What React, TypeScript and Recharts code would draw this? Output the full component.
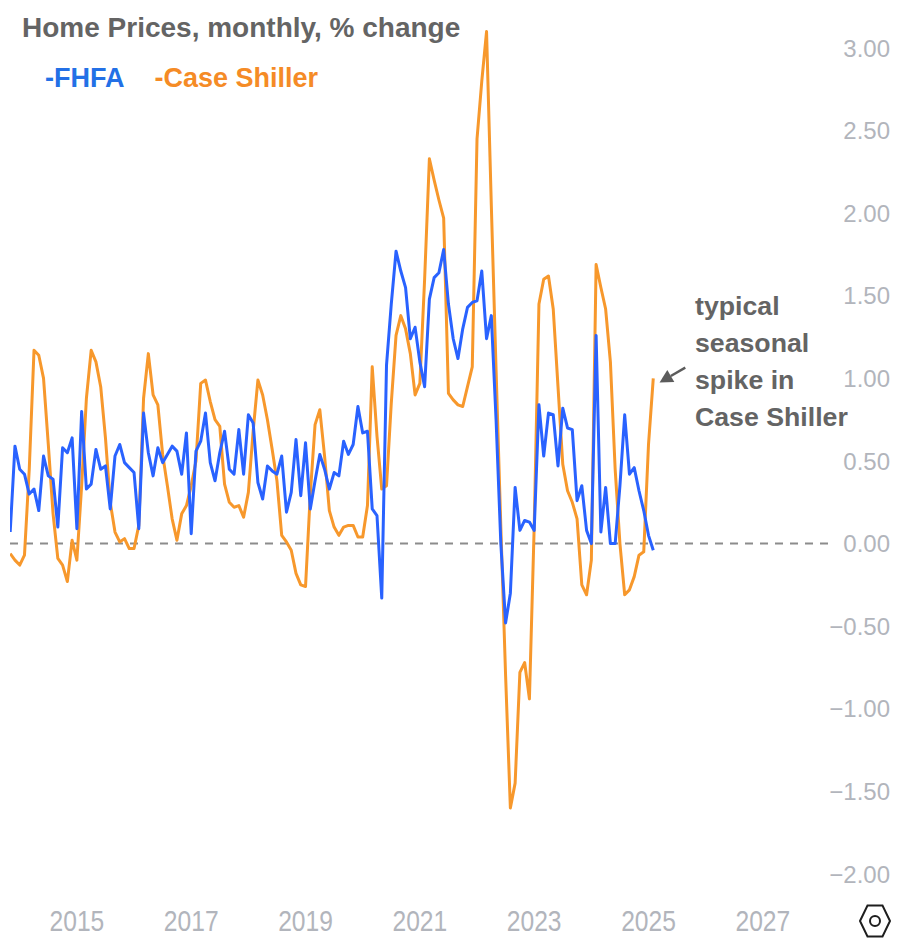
import React from 'react';
import { LineChart, Line, XAxis, YAxis, ReferenceLine } from 'recharts';

// Monthly series, starting November 2013
const START_YEAR = 2013;
const START_MONTH = 11;

const fhfa = [
  0.07, 0.59, // 2013 Nov-Dec
  0.45, 0.42, 0.30, 0.33, 0.20, 0.53, 0.41, 0.39, 0.10, 0.58, 0.55, 0.64, // 2014
  0.09, 0.80, 0.33, 0.36, 0.57, 0.45, 0.47, 0.21, 0.53, 0.60, 0.49, 0.46, // 2015
  0.43, 0.09, 0.79, 0.55, 0.41, 0.58, 0.49, 0.54, 0.59, 0.56, 0.42, 0.67, // 2016
  0.06, 0.56, 0.62, 0.79, 0.49, 0.38, 0.55, 0.68, 0.45, 0.42, 0.69, 0.42, // 2017
  0.78, 0.73, 0.37, 0.27, 0.47, 0.44, 0.42, 0.53, 0.19, 0.31, 0.63, 0.29, // 2018
  0.61, 0.21, 0.38, 0.54, 0.45, 0.33, 0.43, 0.41, 0.62, 0.54, 0.60, 0.83, // 2019
  0.67, 0.68, 0.21, 0.17, -0.33, 1.08, 1.45, 1.77, 1.65, 1.55, 1.24, 1.31, // 2020
  1.10, 0.95, 1.48, 1.61, 1.64, 1.78, 1.45, 1.24, 1.12, 1.30, 1.43, 1.46, // 2021
  1.47, 1.65, 1.24, 1.38, 0.75, 0.00, -0.48, -0.30, 0.34, 0.08, 0.14, 0.13, // 2022
  0.08, 0.84, 0.53, 0.79, 0.78, 0.47, 0.82, 0.70, 0.69, 0.26, 0.35, 0.08, // 2023
  0.00, 1.26, 0.07, 0.34, 0.00, 0.00, 0.35, 0.78, 0.42, 0.46, 0.32, 0.20, // 2024
  0.05, -0.04, // 2025 Jan-Feb
];

const caseShiller = [
  -0.06, -0.10, // 2013 Nov-Dec
  -0.13, -0.07, 0.45, 1.17, 1.14, 1.00, 0.60, 0.18, -0.09, -0.13, -0.23, 0.02, // 2014
  -0.10, 0.35, 0.88, 1.17, 1.10, 0.95, 0.64, 0.25, 0.07, 0.01, 0.03, -0.03, // 2015
  -0.03, 0.11, 0.88, 1.15, 0.90, 0.84, 0.54, 0.35, 0.15, 0.02, 0.18, 0.23, // 2016
  0.35, 0.50, 0.97, 0.99, 0.86, 0.75, 0.71, 0.36, 0.25, 0.22, 0.23, 0.16, // 2017
  0.31, 0.68, 0.99, 0.90, 0.75, 0.57, 0.38, 0.05, 0.01, -0.04, -0.18, -0.25, // 2018
  -0.26, 0.30, 0.72, 0.81, 0.53, 0.20, 0.10, 0.05, 0.10, 0.11, 0.11, 0.04, // 2019
  0.04, 0.23, 1.07, 0.65, 0.33, 0.35, 0.85, 1.26, 1.38, 1.30, 1.15, 0.90, // 2020
  0.97, 1.60, 2.33, 2.20, 2.08, 1.97, 0.91, 0.87, 0.84, 0.83, 0.95, 1.07, // 2021
  2.45, 2.80, 3.10, 2.05, 1.05, 0.10, -0.80, -1.60, -1.45, -0.78, -0.72, -0.94, // 2022
  0.10, 1.45, 1.60, 1.62, 1.42, 0.95, 0.48, 0.32, 0.25, 0.15, -0.25, -0.31, // 2023
  -0.10, 1.69, 1.55, 1.42, 1.10, 0.45, 0.00, -0.31, -0.28, -0.20, -0.07, -0.05, // 2024
  0.60, 1.00, // 2025 Jan-Feb
];

const yearTicks = [2015, 2017, 2019, 2021, 2023, 2025, 2027];
const valueTicks = [-2, -1.5, -1, -0.5, 0, 0.5, 1, 1.5, 2, 2.5, 3];
const X_DOMAIN: [number, number] = [2013.83, 2028.14];
const Y_DOMAIN: [number, number] = [-2.2, 3.2];

const TITLE = 'Home Prices, monthly, % change';
const LEGEND = [
  { label: '-FHFA', color: '#2370e6' },
  { label: '-Case Shiller', color: '#f58b26' },
];
const NOTE_LINES = ['typical', 'seasonal', 'spike in', 'Case Shiller'];

const BLUE = '#2962ff';
const ORANGE = '#f7982c';
const AXIS_TEXT = '#b2b5bc';
const FONT = '"Liberation Sans", Arial, sans-serif';

const data = fhfa.map((v, i) => ({
  t: START_YEAR + (START_MONTH - 1 + i) / 12,
  fhfa: v,
  cs: caseShiller[i],
}));

const last = data[data.length - 1];
const arrowTail = { x: last.t + 0.56, y: last.cs + 0.065 };
const arrowTip = { x: last.t + 0.11, y: last.cs - 0.025 };

function XTick(props: any) {
  const { x, y, payload } = props;
  return (
    <g transform={`translate(${x},${y + 24}) scale(0.82,1)`}>
      <text x={0} y={0} textAnchor="middle" fill={AXIS_TEXT} fontSize={30} fontFamily={FONT}>
        {payload.value}
      </text>
    </g>
  );
}

function fmtValue(v: number) {
  const s = Math.abs(v).toFixed(2);
  return v < 0 ? '\u2212' + s : s;
}

function YTick(props: any) {
  const { x, y, payload } = props;
  return (
    <text x={x + 62} y={y} dy="0.36em" textAnchor="end" fill={AXIS_TEXT} fontSize={24} fontFamily={FONT}>
      {fmtValue(payload.value)}
    </text>
  );
}

function ArrowShape(props: any) {
  const { x1, y1, x2, y2 } = props;
  const ang = Math.atan2(y2 - y1, x2 - x1);
  const L = 13;
  const W = 7;
  const bx = x2 - L * Math.cos(ang);
  const by = y2 - L * Math.sin(ang);
  const px = -Math.sin(ang);
  const py = Math.cos(ang);
  return (
    <g>
      <line x1={x1} y1={y1} x2={bx} y2={by} stroke="#5c5c5c" strokeWidth={2.5} />
      <polygon
        points={`${x2},${y2} ${bx + px * W},${by + py * W} ${bx - px * W},${by - py * W}`}
        fill="#5c5c5c"
      />
    </g>
  );
}

export default function App() {
  return (
    <div style={{ position: 'relative', width: 898, height: 932, background: '#fff', fontFamily: FONT }}>
      <LineChart width={898} height={932} data={data} margin={{ top: 7, right: 0, bottom: 0, left: 2 }}>
        <XAxis
          dataKey="t"
          type="number"
          domain={X_DOMAIN}
          allowDataOverflow
          ticks={yearTicks}
          tick={<XTick />}
          tickLine={false}
          axisLine={false}
          tickSize={0}
          tickMargin={0}
          height={33}
        />
        <YAxis
          orientation="right"
          type="number"
          domain={Y_DOMAIN}
          allowDataOverflow
          ticks={valueTicks}
          tick={<YTick />}
          tickLine={false}
          axisLine={false}
          tickSize={0}
          tickMargin={0}
          width={78}
        />
        <ReferenceLine y={0} stroke="#8c8c8c" strokeWidth={2} strokeDasharray="8 7" />
        <Line
          type="linear"
          dataKey="cs"
          stroke={ORANGE}
          strokeWidth={3}
          dot={false}
          activeDot={false}
          strokeLinejoin="round"
          isAnimationActive={false}
        />
        <Line
          type="linear"
          dataKey="fhfa"
          stroke={BLUE}
          strokeWidth={3}
          dot={false}
          activeDot={false}
          strokeLinejoin="round"
          isAnimationActive={false}
        />
        <ReferenceLine segment={[arrowTail, arrowTip]} shape={<ArrowShape />} ifOverflow="visible" />
      </LineChart>

      <div
        style={{
          position: 'absolute',
          left: 14,
          top: 6,
          fontSize: 28,
          lineHeight: '28px',
          fontWeight: 700,
          color: '#646464',
          whiteSpace: 'nowrap',
        }}
      >
        {TITLE}
      </div>
      <div style={{ position: 'absolute', left: 37, top: 57, fontSize: 27, lineHeight: '27px', fontWeight: 700, whiteSpace: 'nowrap' }}>
        <span style={{ color: LEGEND[0].color }}>{LEGEND[0].label}</span>
        <span style={{ color: LEGEND[1].color, marginLeft: 30 }}>{LEGEND[1].label}</span>
      </div>
      <div
        style={{
          position: 'absolute',
          left: 687,
          top: 280,
          fontSize: 26.7,
          lineHeight: '37px',
          fontWeight: 700,
          color: '#646464',
          whiteSpace: 'nowrap',
        }}
      >
        {NOTE_LINES.map((l) => (
          <div key={l}>{l}</div>
        ))}
      </div>
      <svg style={{ position: 'absolute', left: 850, top: 896 }} width={34} height={36}>
        <polygon points="2,17 9.5,1.5 24.5,1.5 32,17 24.5,32.5 9.5,32.5" fill="none" stroke="#1e1e1e" strokeWidth={2} />
        <circle cx={17} cy={17} r={5} fill="none" stroke="#1e1e1e" strokeWidth={2} />
      </svg>
    </div>
  );
}
